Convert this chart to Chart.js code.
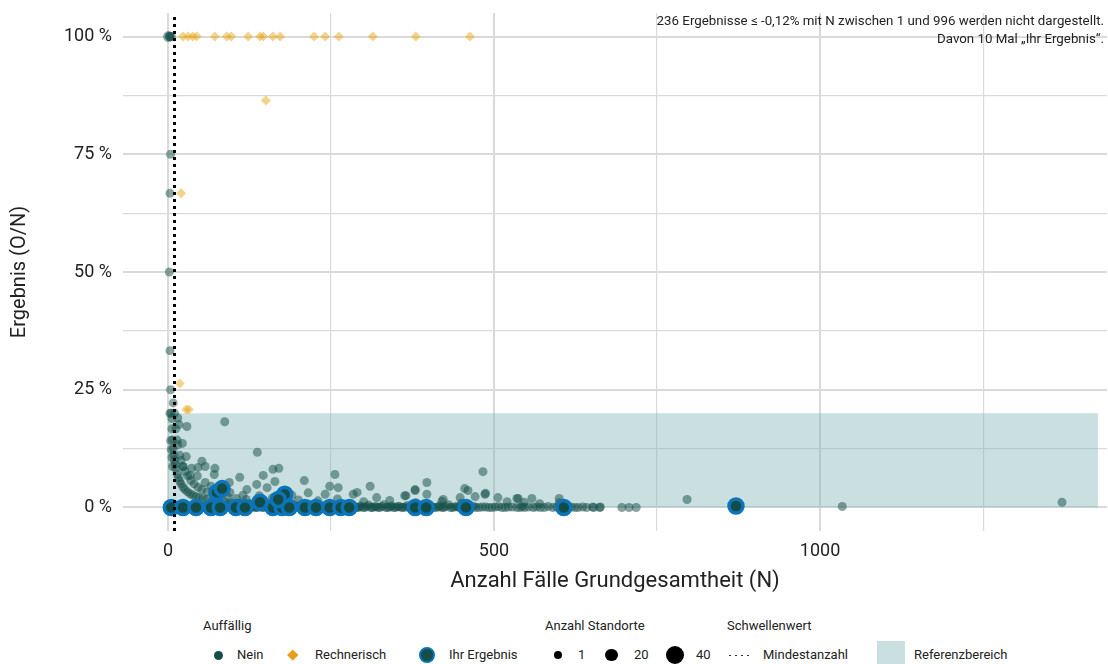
<!DOCTYPE html>
<html lang="de">
<head>
<meta charset="utf-8">
<title>Ergebnis (O/N)</title>
<script src="https://cdn.jsdelivr.net/npm/chart.js@4.4.1/dist/chart.umd.min.js"></script>
<style>
  html, body { margin: 0; padding: 0; background: #fff; }
  body { width: 1108px; height: 664px; overflow: hidden; font-family: Roboto, "Noto Sans", sans-serif; color: #222; }
  #wrap { position: relative; width: 1108px; height: 664px; }
  #chart { position: absolute; left: 0; top: 0; }
  .note { position: absolute; right: 4px; top: 12px; font-size: 13.3px; line-height: 18px; text-align: right; color: #222; }
  .legend { position: absolute; left: 0; top: 600px; width: 1108px; height: 64px; font-size: 13px; overflow: hidden; }
  .legend .t, .legend .l { position: absolute; line-height: 16px; white-space: nowrap; }
  .legend .t { top: 18px; }
  .legend .l { top: 47px; }
  .sym { position: absolute; box-sizing: border-box; }
  .dot { border-radius: 50%; }
  .dotted { background-image: radial-gradient(circle, #333 0.9px, transparent 1.1px); background-size: 6px 3px; background-repeat: repeat-x; }
</style>
</head>
<body>
<div id="wrap">
  <canvas id="chart" width="1108" height="600"></canvas>
  <div class="note">236 Ergebnisse ≤ -0,12% mit N zwischen 1 und 996 werden nicht dargestellt.<br>Davon 10 Mal „Ihr Ergebnis“.</div>
  <div class="legend">
    <span class="t" style="left:203px">Auffällig</span>
    <span class="sym dot" style="left:213.5px;top:50.5px;width:9px;height:9px;background:#154f49"></span>
    <span class="l" style="left:237px">Nein</span>
    <span class="sym" style="left:289px;top:51px;width:7.5px;height:7.5px;background:#e6a11c;transform:rotate(45deg)"></span>
    <span class="l" style="left:315px">Rechnerisch</span>
    <span class="sym dot" style="left:419px;top:47px;width:16px;height:16px;background:#154f49;border:2.5px solid #0a72b5"></span>
    <span class="l" style="left:449px">Ihr Ergebnis</span>

    <span class="t" style="left:545px">Anzahl Standorte</span>
    <span class="sym dot" style="left:553.75px;top:50.75px;width:8.5px;height:8.5px;background:#000"></span>
    <span class="l" style="left:578px">1</span>
    <span class="sym dot" style="left:605.25px;top:48.75px;width:12.5px;height:12.5px;background:#000"></span>
    <span class="l" style="left:634px">20</span>
    <span class="sym dot" style="left:666px;top:46px;width:18px;height:18px;background:#000"></span>
    <span class="l" style="left:696px">40</span>

    <span class="t" style="left:727px">Schwellenwert</span>
    <span class="sym dotted" style="left:727px;top:53.5px;width:26px;height:3px"></span>
    <span class="l" style="left:763px">Mindestanzahl</span>
    <span class="sym" style="left:877px;top:41px;width:28px;height:28px;background:#c9dfe0"></span>
    <span class="l" style="left:914px">Referenzbereich</span>
  </div>
</div>
<script>
// [N, Ergebnis in %, Anzahl Standorte]
const neinPoints = [
  [1, 100, 3], [2, 100], [3, 100], [5, 100], [4, 75], [3, 66.7], [2, 50], [3, 33.3], [4, 25],
  [5, 20], [6, 16.7], [7, 14.3], [8, 12.5], [9, 11.1], [10, 10], [11, 9.1], [12, 8.3], [14, 7.1],
  [16, 6.3], [18, 5.6], [20, 5], [23, 4.3], [26, 3.8], [30, 3.3], [34, 2.9], [38, 2.6], [43, 2.3],
  [48, 2.1], [54, 1.9], [60, 1.7], [68, 1.5], [76, 1.3], [86, 1.2], [96, 1.0], [110, 0.9], [125, 0.8],
  [140, 0.7], [8, 22.2], [3, 20], [6, 18.9], [4, 14.2], [5, 12.3], [6, 10.6], [7, 8.7],
  [10, 20], [12, 16.7], [14, 14.3], [15, 13.3], [18, 11.1], [20, 10], [23, 8.7], [26, 7.7], [30, 6.7],
  [35, 5.7], [40, 5], [46, 4.3], [52, 3.8], [60, 3.3], [70, 2.9], [80, 2.5], [92, 2.2], [105, 1.9],
  [120, 1.7], [140, 1.4], [15, 19], [29, 17.2], [17, 17.6], [22, 13.6], [28, 10.8], [36, 8.3], [45, 6.7],
  [57, 5.3], [66, 4.5], [80, 3.8], [95, 3.2], [115, 2.6],
  [87, 18.2], [137, 11.7], [52, 9.8], [46, 8.5], [57, 8.7], [23, 8.7], [72, 8.3], [71, 7.0], [34, 6.8],
  [110, 6.4], [161, 8.1], [170, 8.3], [146, 6.8], [209, 5.7], [256, 7.0], [483, 7.6], [94, 5.3],
  [136, 4.9], [164, 5.5], [121, 3.8], [152, 4.2], [248, 4.5], [261, 4.2], [310, 4.5], [397, 5.3],
  [379, 3.8], [455, 4.0], [486, 2.8], [535, 1.9], [241, 2.8], [284, 2.8], [290, 3.2], [365, 2.5],
  [422, 1.7], [448, 2.1], [506, 2.1], [363, 2.5], [379, 3.6], [397, 2.8], [460, 3.6], [471, 2.3],
  [487, 3.0], [537, 1.9], [558, 1.9], [546, 1.1], [600, 1.9], [796, 1.7],
  [140, 2.5], [160, 2.0], [200, 1.6], [230, 1.4], [260, 1.8], [300, 1.2], [340, 1.5], [380, 1.0],
  [420, 1.3], [450, 0.9], [520, 1.2], [570, 0.8], [600, 1.0], [190, 2.6], [215, 3.1], [320, 2.1],
  [1, 0], [3, 0], [6, 0], [9, 0.2], [12, 0], [15, 0], [19, 0.3], [24, 0], [27, 0.5], [31, 0],
  [35, 0.2], [39, 0], [42, 0.6], [47, 0], [51, 0.3], [56, 0], [61, 0.4], [65, 0], [70, 0.2], [74, 0.8],
  [78, 0], [83, 0.3], [88, 0], [93, 0.5], [98, 0], [102, 0.2], [107, 0.9], [112, 0], [116, 0.4],
  [121, 0], [126, 0.6], [131, 0.2], [135, 0], [139, 1.0], [144, 0], [149, 0.3], [154, 0.6], [158, 0],
  [163, 0.2], [168, 0.5], [173, 0], [177, 0.8], [182, 0.3], [187, 0], [192, 0.5], [197, 0.2], [201, 0],
  [206, 0.4], [211, 0], [216, 0.7], [221, 0.2], [226, 0], [231, 0.5], [236, 0], [241, 0.3], [246, 0],
  [252, 0.6], [257, 0.2], [263, 0], [268, 0.4], [274, 0], [279, 0.8], [285, 0.2], [291, 0], [296, 0.3],
  [302, 0], [308, 0.5], [313, 0], [319, 0.2], [325, 0], [331, 0.6], [337, 0], [343, 0.3], [349, 0],
  [355, 0.2], [361, 0], [367, 0.4], [373, 0], [380, 0.2], [386, 0], [392, 0.5], [398, 0], [404, 0.2],
  [411, 0], [417, 0.3], [423, 0], [430, 0.6], [436, 0], [443, 0.2], [449, 0], [456, 0.3], [462, 0],
  [469, 0.2], [477, 0], [487, 0.1], [497, 0], [507, 0.2], [512, 0], [522, 0.1], [535, 0], [543, 0.2],
  [547, 0], [565, 0.1], [577, 0], [583, 0.2], [590, 0], [613, 0], [618, 0.1], [629, 0], [642, 0],
  [651, 0.1], [653, 0], [662, 0], [663, 0.1], [696, 0], [707, 0], [718, 0], [1034, 0.2], [1371, 1.1],
  [4, 0.1], [8, 0], [17, 0.1], [21, 0], [29, 0.2], [33, 0], [37, 0.1], [44, 0], [49, 0.2], [53, 0],
  [58, 0.1], [63, 0], [67, 0.3], [72, 0], [76, 0.1], [81, 0], [85, 0.2], [90, 0], [95, 0.1], [100, 0],
  [105, 0.3], [110, 0], [114, 0.1], [118, 0], [123, 0.2], [128, 0], [133, 0.1], [137, 0], [142, 0.3],
  [147, 0], [152, 0.1], [156, 0], [161, 0.2], [166, 0], [171, 0.1], [175, 0], [180, 0.2], [185, 0],
  [190, 0.1], [194, 0], [199, 0.3], [204, 0], [209, 0.1], [214, 0], [219, 0.2], [224, 0], [229, 0.1],
  [234, 0], [239, 0.2], [244, 0], [249, 0.1], [255, 0], [260, 0.2], [266, 0], [271, 0.1], [277, 0],
  [282, 0.3], [288, 0], [293, 0.1], [299, 0], [305, 0.2], [311, 0], [316, 0.1], [322, 0], [328, 0.2],
  [334, 0], [340, 0.1], [346, 0], [352, 0.2], [358, 0], [364, 0.1], [370, 0], [377, 0.1], [383, 0],
  [389, 0.2], [395, 0], [401, 0.1], [407, 0], [414, 0.1], [420, 0], [426, 0.2], [433, 0], [439, 0.1],
  [446, 0], [452, 0.1], [459, 0], [465, 0.1], [472, 0], [482, 0.1], [492, 0], [502, 0.1], [517, 0],
  [528, 0.1], [540, 0], [553, 0.1], [560, 0], [571, 0], [596, 0.1], [603, 0], [624, 0], [636, 0.1]
];

const rechnerischPoints = [
  [23, 100], [31, 100], [38, 100], [44, 100], [72, 100], [90, 100], [97, 100], [123, 100], [141, 100],
  [146, 100], [161, 100], [172, 100], [224, 100], [241, 100], [262, 100], [314, 100], [380, 100],
  [463, 100], [150, 86.4], [20, 66.7], [18, 26.3], [28, 20.8], [32, 20.8]
];

const ihrPoints = [
  [5, 0], [23, 0], [43, 0], [66, 0], [80, 0], [104, 0], [118, 0], [141, 1.1], [161, 0], [175, 0],
  [186, 0], [210, 0], [227, 0], [248, 0], [265, 0], [278, 0], [379, 0], [396, 0], [457, 0], [607, 0],
  [871, 0.3], [75, 3.2], [83, 4.0], [179, 2.8], [169, 1.7]
];

const mindestanzahl = 10;
const referenzbereich = [0, 20];   // Ergebnis in %
const referenzN = [0, 1426];
const xTicks = [0, 250, 500, 750, 1000, 1250];
const xLabels = [0, 500, 1000];
const yTicks = [0, 12.5, 25, 37.5, 50, 62.5, 75, 87.5, 100];
const yLabels = [0, 25, 50, 75, 100];

const toXY = points => points.map(p => ({ x: p[0], y: p[1], s: p[2] || 1 }));
const sizeRadius = s => 4.5 + 4.5 * Math.sqrt((s - 1) / 39);

const referenzPlugin = {
    id: 'referenzbereich',
    beforeDatasetsDraw(chart) {
        const { ctx, scales: { x, y } } = chart;
        const x0 = x.getPixelForValue(referenzN[0]);
        const x1 = x.getPixelForValue(referenzN[1]);
        const y0 = y.getPixelForValue(referenzbereich[0]);
        const y1 = y.getPixelForValue(referenzbereich[1]);
        ctx.save();
        ctx.fillStyle = 'rgba(120, 175, 177, 0.4)';
        ctx.fillRect(x0, y1, x1 - x0, y0 - y1);
        ctx.restore();
    }
};

const gridColor = '#dadada';
const textColor = '#222';

new Chart(document.getElementById('chart').getContext('2d'), {
    type: 'scatter',
    data: {
        datasets: [
            {
                label: 'Mindestanzahl',
                type: 'line',
                data: [{ x: mindestanzahl, y: -5 }, { x: mindestanzahl, y: 105 }],
                borderColor: '#000',
                borderWidth: 3,
                borderDash: [3, 4],
                pointRadius: 0,
                order: 0
            },
            {
                label: 'Ihr Ergebnis',
                data: toXY(ihrPoints),
                pointRadius: 7,
                backgroundColor: '#134c46',
                borderColor: '#0b74ba',
                borderWidth: 3.5,
                order: 1
            },
            {
                label: 'Rechnerisch',
                data: toXY(rechnerischPoints),
                pointStyle: 'rectRot',
                pointRadius: 5,
                backgroundColor: 'rgba(230, 159, 0, 0.45)',
                borderWidth: 0,
                order: 2
            },
            {
                label: 'Nein',
                data: toXY(neinPoints),
                pointRadius: c => sizeRadius(c.raw ? c.raw.s : 1),
                backgroundColor: 'rgba(20, 78, 72, 0.5)',
                borderWidth: 0,
                order: 3
            }
        ]
    },
    options: {
        responsive: false,
        animation: false,
        layout: { autoPadding: false, padding: { top: 13, right: 1, left: 0, bottom: 0 } },
        plugins: {
            legend: { display: false },
            tooltip: { enabled: false }
        },
        scales: {
            x: {
                type: 'linear',
                min: -69,
                max: 1440,
                afterBuildTicks: s => { s.ticks = xTicks.map(v => ({ value: v })); },
                afterFit: s => { s.height = 69; s.paddingLeft = 0; s.paddingRight = 0; },
                grid: {
                    color: gridColor,
                    lineWidth: c => (xLabels.includes(c.tick && c.tick.value) ? 2 : 1.2),
                    drawTicks: false
                },
                border: { display: false },
                ticks: {
                    autoSkip: false,
                    maxRotation: 0,
                    padding: 10,
                    color: textColor,
                    font: { family: 'Roboto', size: 18 },
                    callback: v => (xLabels.includes(v) ? String(v) : '')
                },
                title: {
                    display: true,
                    text: 'Anzahl Fälle Grundgesamtheit (N)',
                    color: textColor,
                    font: { family: 'Roboto', size: 22 },
                    padding: { top: 0, bottom: 5 }
                }
            },
            y: {
                min: -5,
                max: 105,
                afterBuildTicks: s => { s.ticks = yTicks.map(v => ({ value: v })); },
                afterFit: s => { s.width = 123; s.paddingTop = 0; s.paddingBottom = 0; },
                grid: {
                    color: gridColor,
                    lineWidth: c => (yLabels.includes(c.tick && c.tick.value) ? 2 : 1.2),
                    drawTicks: false
                },
                border: { display: false },
                ticks: {
                    autoSkip: false,
                    padding: 11,
                    color: textColor,
                    font: { family: 'Roboto', size: 18 },
                    callback: v => (yLabels.includes(v) ? v + ' %' : '')
                },
                title: {
                    display: true,
                    text: 'Ergebnis (O/N)',
                    color: textColor,
                    font: { family: 'Roboto', size: 20 },
                    padding: { top: 8, bottom: 0 }
                }
            }
        }
    },
    plugins: [referenzPlugin]
});
</script>
</body>
</html>
